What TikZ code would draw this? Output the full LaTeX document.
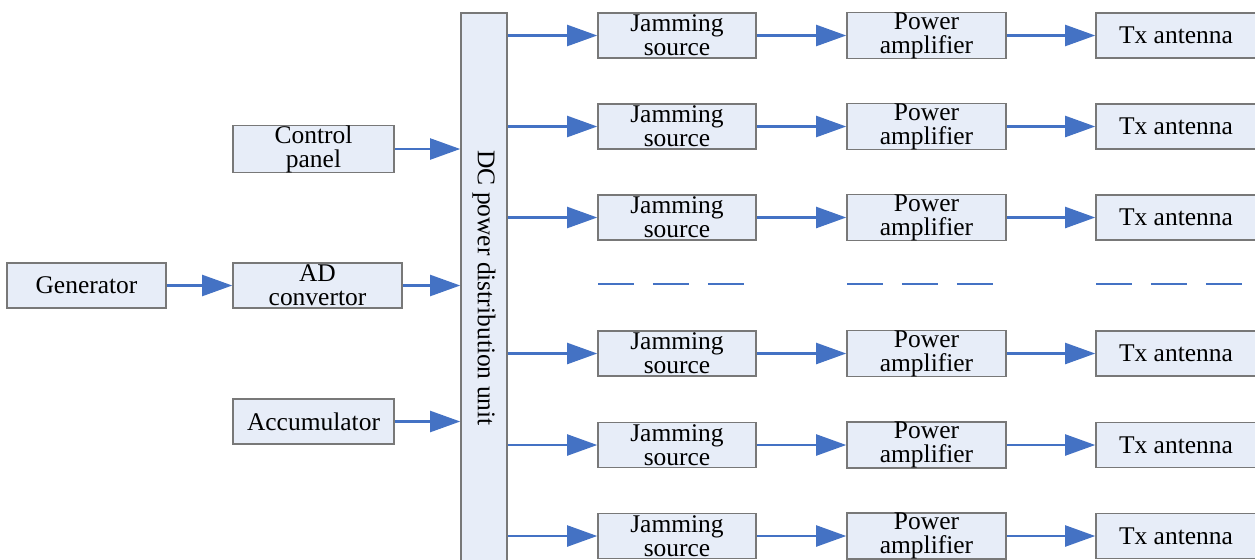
\documentclass[tikz,border=0pt]{standalone}
\usepackage{fontspec}
\setmainfont{Liberation Serif}
\usetikzlibrary{arrows.meta}
\definecolor{arrowblue}{RGB}{68,114,196}
\definecolor{boxfill}{RGB}{231,237,248}
\definecolor{boxline}{RGB}{120,120,120}
\begin{document}
\begin{tikzpicture}[x=0.02cm,y=-0.02cm,
  blk/.style={draw=boxline, fill=boxfill, line width=0.9pt, inner sep=0pt,
    align=center, font=\fontsize{14.5}{13.6}\selectfont, minimum height=0.9cm},
  lbl/.style={inner sep=0pt, font=\fontsize{14.5}{13.6}\selectfont},
  conn/.style={draw=arrowblue, line width=1.2pt, -{Triangle[length=0.6cm,width=0.42cm]}},
  gapline/.style={draw=arrowblue, line width=1.5pt, dash pattern=on 0.72cm off 0.38cm}]
\useasboundingbox (0,0) rectangle (1255,559);
\clip (0,0) rectangle (1255,559);

\node[blk, minimum width=3.18cm] (gen) at (86.5,285.5) {Generator};
\node[blk, minimum width=3.22cm, minimum height=0.92cm] (ctrl) at (313.5,149) {Control\\panel};
\node[blk, minimum width=3.38cm] (ad) at (317.5,285.5) {AD\\convertor};
\node[blk, minimum width=3.22cm] (acc) at (313.5,421.5) {Accumulator};
\node[blk, minimum width=0.92cm, minimum height=11.0cm] (dc) at (484,288) {};
\node[lbl, rotate=-90] (dclabel) at (dc.center) {DC power distribution unit};

\draw[conn] (gen.east) -- (ad.west);
\draw[conn] (ctrl.east) -- (ctrl.east -| dc.west);
\draw[conn] (ad.east) -- (ad.east -| dc.west);
\draw[conn] (acc.east) -- (acc.east -| dc.west);

\foreach \i/\y in {1/35.5, 2/126.5, 3/217.5, 4/353.5, 5/445, 6/536}{
  \node[blk, minimum width=3.16cm] (js\i) at (677,\y) {Jamming\\source};
  \node[blk, minimum width=3.18cm] (pa\i) at (926.5,\y) {Power\\amplifier};
  \node[blk, minimum width=3.2cm] (tx\i) at (1176,\y) {Tx antenna};
  \draw[conn] (dc.east |- js\i.west) -- (js\i.west);
  \draw[conn] (js\i.east) -- (pa\i.west);
  \draw[conn] (pa\i.east) -- (tx\i.west);
}

\coordinate (g1a) at (598,284);
\coordinate (g1b) at (744,284);
\coordinate (g2a) at (847,284);
\coordinate (g2b) at (993,284);
\coordinate (g3a) at (1096,284);
\coordinate (g3b) at (1242,284);
\draw[gapline] (g1a) -- (g1b);
\draw[gapline] (g2a) -- (g2b);
\draw[gapline] (g3a) -- (g3b);
\end{tikzpicture}
\end{document}
